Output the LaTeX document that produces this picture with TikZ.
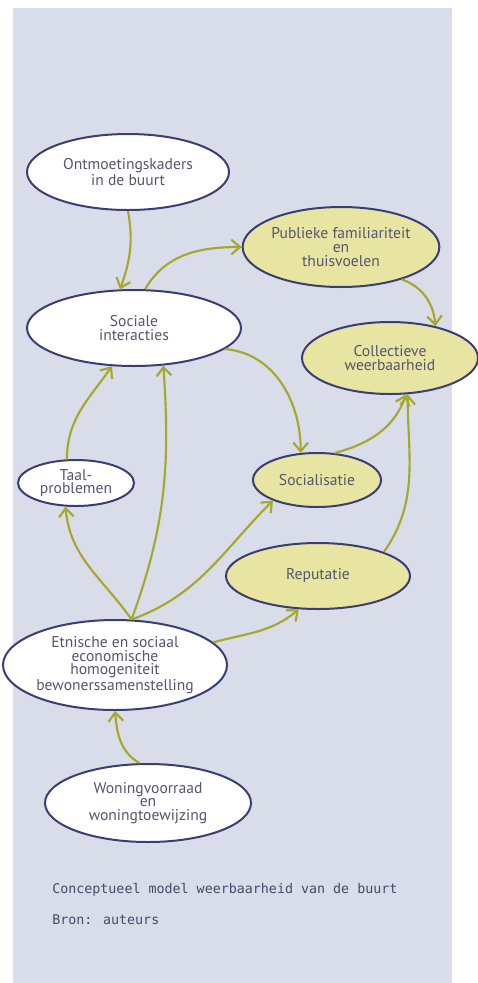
\documentclass[tikz,border=0pt]{standalone}
\usepackage{fontspec}
\setmainfont{PT Sans}
\newfontfamily\capfont{DejaVu Sans Mono}
\usetikzlibrary{shapes.geometric,arrows.meta}
\definecolor{bgc}{HTML}{D9DCE9}
\definecolor{edgec}{HTML}{3B3E73}
\definecolor{yel}{HTML}{E8E5A2}
\definecolor{arr}{HTML}{A6A82C}
\definecolor{txt}{HTML}{53566E}
\definecolor{captxt}{HTML}{464A6A}
\begin{document}
\begin{tikzpicture}[x=0.75pt,y=-0.75pt,
  bub/.style={ellipse, draw=edgec, line width=1.5pt, fill=white, inner sep=0pt, align=center, text=txt, font=\fontsize{11.7}{10.2}\selectfont},
  yb/.style={bub, fill=yel},
  link/.style={draw=arr, line width=1.6pt, -{Straight Barb[length=6.5pt,width=11pt]}},
  captext/.style={anchor=base west, inner sep=0pt, text=captxt, font=\capfont\fontsize{10}{12}\selectfont}
]
\useasboundingbox (0,0) rectangle (478,983);
\fill[white] (0,0) rectangle (478,983);
\fill[bgc] (13,8) rectangle (452,983);

\node[bub, minimum width=151.5pt, minimum height=57pt] (ont) at (128,172) {Ontmoetingskaders\\in de buurt};
\node[bub, minimum width=160.5pt, minimum height=57pt] (soc) at (134,328) {Sociale\\interacties};
\node[yb, minimum width=120pt, minimum height=60pt] (pub) at (341,247) {Publieke familiariteit\\en\\thuisvoelen};
\node[yb, minimum width=132pt, minimum height=54pt] (col) at (390,358) {Collectieve\\weerbaarheid};
\node[bub, minimum width=87pt, minimum height=34.5pt] (taal) at (76,483) {Taal-\\problemen};
\node[yb, minimum width=96pt, minimum height=40.5pt] (sos) at (317,480) {Socialisatie};
\node[yb, minimum width=138pt, minimum height=49.5pt] (rep) at (318,576) {Reputatie};
\node[bub, minimum width=168pt, minimum height=67.5pt] (etn) at (115,665) {Etnische en sociaal\\economische\\homogeniteit\\bewonerssamenstelling};
\node[bub, minimum width=154.5pt, minimum height=58.5pt] (won) at (148,803) {Woningvoorraad\\en\\woningtoewijzing};

\draw[link] (ont.-90) to[out=-80,in=70] (soc.110);
\draw[link] (soc.74) to[out=60,in=180] (pub.180);
\draw[link] (pub.-28) to[out=-20,in=95] (col.35);
\draw[link] (soc.-13) to[out=-5,in=90] (sos.121);
\draw[link] (sos.57) to[out=15,in=-110] (col.-66);
\draw[link] (rep.20) to[out=55,in=-90] (col.-64);
\draw[link] (etn.70) to[out=125,in=-85] (taal.-114);
\draw[link] (taal.111) to[out=90,in=-125] (soc.-120);
\draw[link] (etn.70) to[out=70,in=-86] (soc.-52);
\draw[link] (etn.70) to[out=20,in=-135] (sos.-155);
\draw[link] (etn.13) to[out=15,in=-140] (rep.-120);
\draw[link] (won.102) to[out=150,in=-85] (etn.-90);

\node[captext] (cap1) at (52,893) {Conceptueel model weerbaarheid van de buurt};
\node[captext] (cap2) at (52,924) {Bron: auteurs};
\end{tikzpicture}
\end{document}
